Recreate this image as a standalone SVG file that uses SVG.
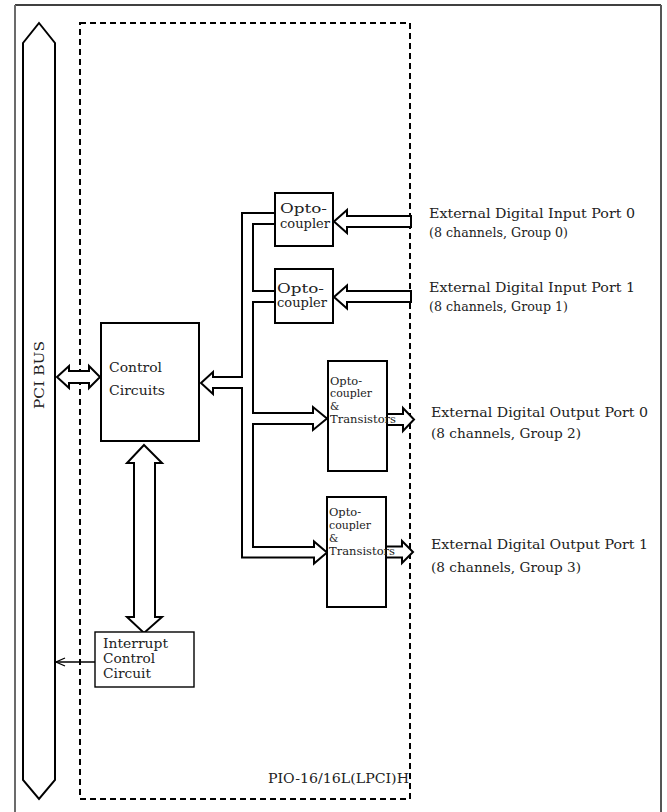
<svg xmlns="http://www.w3.org/2000/svg" width="667" height="812" viewBox="0 0 667 812">
<style>
.t{font-family:"DejaVu Serif","Liberation Serif",serif;fill:#222;}
.box{fill:#fff;stroke:#000;stroke-width:2;}
.wire{fill:none;stroke:#000;stroke-width:2;stroke-linejoin:miter;}
.fat{fill:#fff;stroke:#000;stroke-width:2;stroke-linejoin:miter;}
</style>
<rect width="667" height="812" fill="#fff"/>
<g id="frame">
<line x1="15" y1="5" x2="661" y2="5" stroke="#000" stroke-width="1.5"/>
<line x1="15" y1="5" x2="15" y2="812" stroke="#6b6b6b" stroke-width="2"/>
<line x1="661" y1="5" x2="661" y2="812" stroke="#555" stroke-width="2"/>
</g>
<g id="board">
<rect x="80" y="23" width="330" height="776" fill="none" stroke="#000" stroke-width="2" stroke-dasharray="6 4"/>
<text class="t" x="409" y="783" font-size="13" text-anchor="end" textLength="141" lengthAdjust="spacingAndGlyphs">PIO-16/16L(LPCI)H</text>
</g>
<g id="pci-bus">
<polygon class="fat" points="39,23 55,43 55,780 39,799 23,780 23,43"/>
<text class="t" transform="translate(43.5,375) rotate(-90)" font-size="13" text-anchor="middle" textLength="68" lengthAdjust="spacingAndGlyphs">PCI BUS</text>
</g>
<g id="connectors">
<polygon class="fat" points="57,377 69,366 69,371 89,371 89,366 100,377 89,388 89,383 69,383 69,388"/>
<path class="wire" d="M275,213 L242,213 L242,377 L213,377 L213,372 L201,383 L213,394 L213,388 L242,388 L242,557.5 L314,557.5 L314,563.5 L327,552.5 L314,541.5 L314,547 L253,547 L253,424 L313,424 L313,430 L327,418.5 L313,407 L313,413 L253,413 L253,302 L275,302"/>
<path class="wire" d="M275,224 L253,224 L253,291 L275,291"/>
<polygon class="fat" points="411,216 347,216 347,210 334,221.5 347,233 347,227 411,227"/>
<polygon class="fat" points="411,291 347,291 347,285.5 334,297 347,308.5 347,302 411,302"/>
<path class="fat" d="M387,414 L403,414 L403,408 L414,419.5 L403,431 L403,425 L387,425"/>
<path class="fat" d="M386,546.5 L402,546.5 L402,541 L413,552 L402,563 L402,557.5 L386,557.5"/>
<polygon class="fat" points="144,445 162,463 155,463 155,617 162,617 144,633 127,617 134,617 134,463 127,463"/>
<line x1="95" y1="662" x2="56" y2="662" stroke="#000" stroke-width="1.5"/>
<polyline points="65,658 56,662 65,666" fill="none" stroke="#000" stroke-width="1.3"/>
</g>
<g id="control">
<rect class="box" x="101" y="323" width="98" height="118"/>
<text class="t" x="109" y="372" font-size="13" textLength="53" lengthAdjust="spacingAndGlyphs">Control</text>
<text class="t" x="109" y="395" font-size="13" textLength="56" lengthAdjust="spacingAndGlyphs">Circuits</text>
</g>
<g id="opto1">
<rect class="box" x="275" y="193" width="58" height="53"/>
<text class="t" x="280" y="213" font-size="12.5" textLength="47" lengthAdjust="spacingAndGlyphs">Opto-</text>
<text class="t" x="280" y="228" font-size="12.5" textLength="50" lengthAdjust="spacingAndGlyphs">coupler</text>
</g>
<g id="opto2">
<rect class="box" x="275" y="269" width="58" height="54"/>
<text class="t" x="277" y="293" font-size="12.5" textLength="47" lengthAdjust="spacingAndGlyphs">Opto-</text>
<text class="t" x="277" y="307" font-size="12.5" textLength="50" lengthAdjust="spacingAndGlyphs">coupler</text>
</g>
<g id="optotr1">
<rect class="box" x="328" y="361" width="59" height="110"/>
<text class="t" x="330" y="385" font-size="10.5" textLength="32" lengthAdjust="spacingAndGlyphs">Opto-</text>
<text class="t" x="330" y="397" font-size="10.5" textLength="42" lengthAdjust="spacingAndGlyphs">coupler</text>
<text class="t" x="330" y="410" font-size="10.5">&amp;</text>
<text class="t" x="330" y="423" font-size="10.5" textLength="66" lengthAdjust="spacingAndGlyphs">Transistors</text>
</g>
<g id="optotr2">
<rect class="box" x="327" y="497" width="59" height="110"/>
<text class="t" x="329" y="516" font-size="10.5" textLength="32" lengthAdjust="spacingAndGlyphs">Opto-</text>
<text class="t" x="329" y="529" font-size="10.5" textLength="42" lengthAdjust="spacingAndGlyphs">coupler</text>
<text class="t" x="329" y="542" font-size="10.5">&amp;</text>
<text class="t" x="329" y="555" font-size="10.5" textLength="66" lengthAdjust="spacingAndGlyphs">Transistors</text>
</g>
<g id="interrupt">
<rect x="95" y="632" width="99" height="55" fill="#fff" stroke="#000" stroke-width="1.4"/>
<text class="t" x="103" y="648" font-size="13" textLength="65" lengthAdjust="spacingAndGlyphs">Interrupt</text>
<text class="t" x="103" y="663" font-size="13" textLength="52" lengthAdjust="spacingAndGlyphs">Control</text>
<text class="t" x="103" y="678" font-size="13" textLength="48" lengthAdjust="spacingAndGlyphs">Circuit</text>
</g>
<g id="port-in0">
<text class="t" x="429" y="218" font-size="13.5" textLength="206" lengthAdjust="spacingAndGlyphs">External Digital Input Port 0</text>
<text class="t" x="429" y="237" font-size="13.5" textLength="139" lengthAdjust="spacingAndGlyphs">(8 channels, Group 0)</text>
</g>
<g id="port-in1">
<text class="t" x="429" y="292" font-size="13.5" textLength="206" lengthAdjust="spacingAndGlyphs">External Digital Input Port 1</text>
<text class="t" x="429" y="311" font-size="13.5" textLength="139" lengthAdjust="spacingAndGlyphs">(8 channels, Group 1)</text>
</g>
<g id="port-out0">
<text class="t" x="431" y="417" font-size="13.5" textLength="217" lengthAdjust="spacingAndGlyphs">External Digital Output Port 0</text>
<text class="t" x="431" y="438" font-size="13.5" textLength="150" lengthAdjust="spacingAndGlyphs">(8 channels, Group 2)</text>
</g>
<g id="port-out1">
<text class="t" x="431" y="549" font-size="13.5" textLength="217" lengthAdjust="spacingAndGlyphs">External Digital Output Port 1</text>
<text class="t" x="431" y="572" font-size="13.5" textLength="150" lengthAdjust="spacingAndGlyphs">(8 channels, Group 3)</text>
</g>
</svg>
